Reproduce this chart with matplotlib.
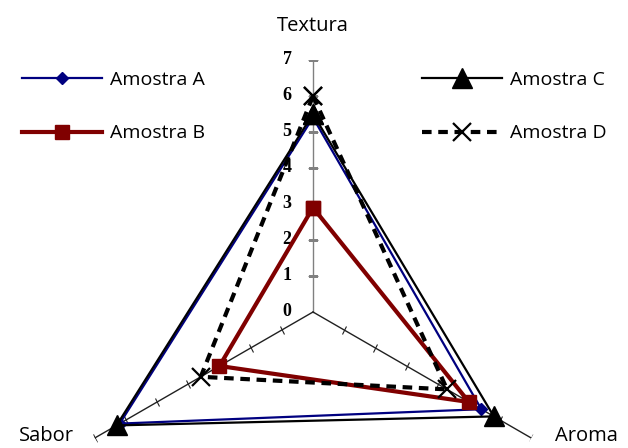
import numpy as np
import matplotlib
matplotlib.use("Agg")
import matplotlib.pyplot as plt
from matplotlib.markers import MarkerStyle
from matplotlib.transforms import Affine2D, offset_copy
from matplotlib.lines import Line2D

categories = ["Textura", "Aroma", "Sabor"]
amostra_a = [5.4, 5.4, 6.2]
amostra_b = [2.9, 5.0, 3.0]
amostra_c = [5.5, 5.8, 6.3]
amostra_d = [6.0, 4.3, 3.6]
tick_values = [0, 1, 2, 3, 4, 5, 6, 7]
series_names = ["Amostra A", "Amostra B", "Amostra C", "Amostra D"]

W, H = 628, 448
fig = plt.figure(figsize=(W / 100, H / 100), dpi=100)
cx, cy, R = 313, 448 - 312, 252
ax = fig.add_axes([(cx - R) / W, (cy - R) / H, 2 * R / W, 2 * R / H], projection="polar")
ax.set_theta_offset(np.pi / 2)
ax.set_theta_direction(-1)
ax.set_ylim(0, 7)
ax.spines["polar"].set_visible(False)
ax.grid(False)
ax.set_xticks([])
ax.set_yticks([])
ax.patch.set_alpha(0)

angles = np.arange(len(categories)) * 2 * np.pi / len(categories)

# spokes with perpendicular ticks
spoke_colors = ["#808080", "#202020", "#202020"]
for i, th in enumerate(angles):
    ax.plot([th, th], [0, 7], color=spoke_colors[i], lw=1, zorder=1)
    screen_deg = 90 - np.degrees(th)
    m = MarkerStyle("_", transform=Affine2D().rotate_deg(screen_deg - 90))
    ax.plot([th] * (len(tick_values) - 1), tick_values[1:], linestyle="none",
            marker=m, markersize=7, mec=spoke_colors[i], mew=0.8, zorder=1)

# radial tick labels
lab_tr = offset_copy(ax.transData, fig=fig, x=-26, y=0, units="dots")
for v in tick_values:
    ax.text(0, v, str(v), transform=lab_tr, ha="center", va="center",
            fontsize=13, fontweight="bold", family="Liberation Serif", zorder=0)

# category labels
font = "Open Sans"
cat_offsets = [(0, 34, "center", "center"), (24, 2, "left", "center"), (-21, 2, "right", "center")]
for i, (name, th) in enumerate(zip(categories, angles)):
    dx, dy, ha, va = cat_offsets[i]
    tr = offset_copy(ax.transData, fig=fig, x=dx, y=dy, units="dots")
    ax.text(th, 7, name, transform=tr, ha=ha, va=va, fontsize=14.5, family=font)

th_closed = np.append(angles, angles[0])
def closed(v):
    return np.append(v, v[0])

styles = [
    dict(color="#000080", lw=1.6, marker="D", markersize=6, ls="-"),
    dict(color="#800000", lw=3.0, marker="s", markersize=10, ls="-"),
    dict(color="#000000", lw=1.6, marker="^", markersize=14, ls="-"),
    dict(color="#000000", lw=3.0, marker="x", markersize=13, ls=(0, (2.3, 1.6)), mew=1.6),
]
data = [amostra_a, amostra_b, amostra_c, amostra_d]
for name, vals, st in zip(series_names, data, styles):
    ax.plot(th_closed, closed(vals), label=name, clip_on=False, zorder=3, **st)

def leg_handle(st):
    return Line2D([], [], **st)

leg_kw = dict(loc="center left", frameon=False, prop={"family": font, "size": 14},
              handlelength=4.1, handletextpad=0.4, labelspacing=1.85,
              borderaxespad=0, borderpad=0)
fig.legend(handles=[leg_handle(styles[0]), leg_handle(styles[1])],
           labels=series_names[:2], bbox_to_anchor=(22 / W, 1 - 106.5 / H), **leg_kw)
fig.legend(handles=[leg_handle(styles[2]), leg_handle(styles[3])],
           labels=series_names[2:], bbox_to_anchor=(422 / W, 1 - 106.5 / H), **leg_kw)

fig.savefig("out.png", dpi=100)
